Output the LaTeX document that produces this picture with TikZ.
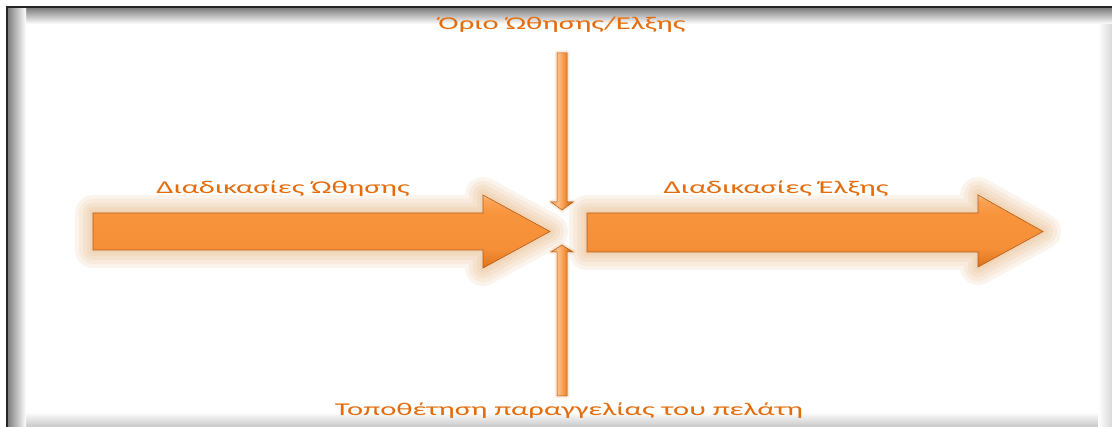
\documentclass[tikz,border=0pt]{standalone}
\usepackage{fontspec}
\setmainfont{Carlito}
\usetikzlibrary{calc}
\definecolor{txtor}{HTML}{E46C0A}
\definecolor{arlight}{HTML}{FCC28E}
\definecolor{armid}{HTML}{F8943C}
\definecolor{ardark}{HTML}{E0721C}
\definecolor{aredge}{HTML}{B85A10}
\definecolor{glow}{HTML}{E9B27C}
\pgfdeclareverticalshading{bigarrow}{100bp}{color(0bp)=(ardark); color(25bp)=(ardark); color(38bp)=(armid!85!ardark); color(62bp)=(armid); color(71bp)=(armid!70!arlight); color(75bp)=(arlight); color(100bp)=(arlight)}
\pgfdeclarehorizontalshading{vertarrow}{100bp}{color(0bp)=(armid); color(25bp)=(armid); color(40bp)=(arlight); color(55bp)=(armid); color(75bp)=(ardark!80!black); color(100bp)=(ardark!80!black)}
\tikzset{
  lbl/.style={text=txtor, font=\fontsize{18}{21}\selectfont, inner sep=0pt, xscale=1.7},
  glowline/.style={draw=glow, line join=round, draw opacity=0.14},
  arrowbody/.style={shading=bigarrow, draw=aredge, line width=0.6pt, line join=miter},
  vbody/.style={shading=vertarrow, draw=aredge, line width=0.5pt},
}
\begin{document}
\begin{tikzpicture}[x=1pt,y=-1pt]
\useasboundingbox (0,0) rectangle (1112,427);
% frame
\fill[white] (0,0) rectangle (1112,427);
\shade[top color=white, bottom color=black!22] (8,412) rectangle (1112,427);
\shade[left color=white, right color=black!15] (1098,8) rectangle (1112,427);
\shade[top color=black!50, bottom color=white] (8,8) rectangle (1112,24);
\shade[left color=black!50, right color=white] (8,8) rectangle (26,427);
\fill[white] (26,24) rectangle (1098,412);
\draw[line width=1.6pt, black!85] (7,427) -- (7,7) -- (1112,7);

% glows
\foreach \w in {36,28,20,12,6}{
  \draw[glowline, line width=\w pt] (93,213) -- (483,213) -- (483,195) -- (550,231.5) -- (483,268) -- (483,250) -- (93,250) -- cycle;
  \draw[glowline, line width=\w pt] (587,213) -- (978,213) -- (978,195) -- (1043,231.5) -- (978,267) -- (978,252) -- (587,252) -- cycle;
}
\foreach \w in {5,2}{
  \draw[glowline, line width=\w pt, draw opacity=0.2] (557,53) -- (567,53) -- (567,202) -- (573,202) -- (562,210) -- (551,202) -- (557,202) -- cycle;
  \draw[glowline, line width=\w pt, draw opacity=0.2] (557,396) -- (567,396) -- (567,252) -- (573,252) -- (562,245) -- (551,252) -- (557,252) -- cycle;
}

% big arrows
\draw[arrowbody] (93,213) -- (483,213) -- (483,195) -- (550,231.5) -- (483,268) -- (483,250) -- (93,250) -- cycle;
\draw[arrowbody] (587,213) -- (978,213) -- (978,195) -- (1043,231.5) -- (978,267) -- (978,252) -- (587,252) -- cycle;
% vertical arrows
\draw[vbody] (557,53) -- (567,53) -- (567,202) -- (573,202) -- (562,210) -- (551,202) -- (557,202) -- cycle;
\draw[vbody] (557,396) -- (567,396) -- (567,252) -- (573,252) -- (562,245) -- (551,252) -- (557,252) -- cycle;

% labels
\node[lbl] (top) at (562,25) {Όριο Ώθησης/Ελξης};
\node[lbl] (push) at (283,189) {Διαδικασίες Ώθησης};
\node[lbl] (pull) at (776,189) {Διαδικασίες Έλξης};
\node[lbl] (bottom) at (569,411) {Τοποθέτηση παραγγελίας του πελάτη};
\end{tikzpicture}
\end{document}
